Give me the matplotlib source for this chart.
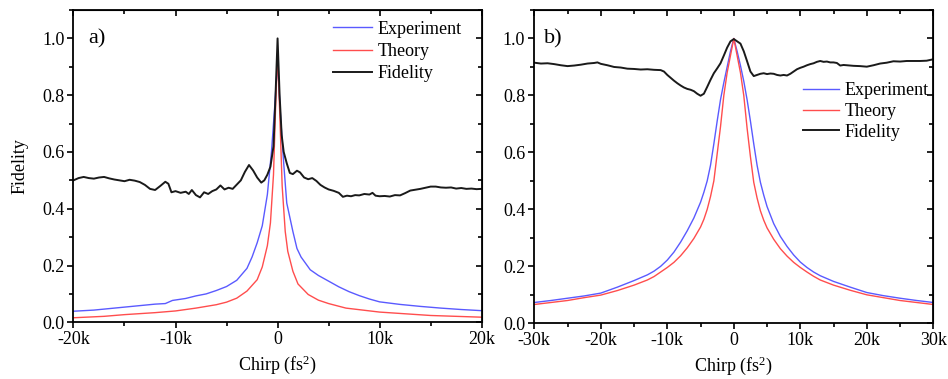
import numpy as np
import matplotlib
matplotlib.use("Agg")
import matplotlib.pyplot as plt
from matplotlib.ticker import MultipleLocator, FixedLocator, FixedFormatter, FormatStrFormatter

plt.rcParams['font.family'] = ['Liberation Serif', 'DejaVu Serif']
plt.rcParams['mathtext.fontset'] = 'custom'
plt.rcParams['mathtext.rm'] = 'Liberation Serif'
plt.rcParams['mathtext.it'] = 'Liberation Serif:italic'

# ---- panel a data (chirp in k fs^2) ----
a_fid_x = [-20, -19.5, -19, -18.5, -18, -17.5, -17, -16.5, -16, -15.5, -15, -14.5, -14, -13.5,
           -13, -12.5, -12, -11.5, -11, -10.7, -10.4, -10, -9.5, -9, -8.7, -8.4, -8, -7.6,
           -7.2, -6.8, -6.4, -6, -5.6, -5.2, -4.8, -4.4, -4, -3.6, -3.2, -2.8, -2.4, -2.0,
           -1.6, -1.3, -1.0, -0.7, -0.4, -0.2, 0, 0.2, 0.4, 0.6, 0.9, 1.2, 1.5, 1.9, 2.2,
           2.6, 3.0, 3.4, 3.8, 4.2, 4.6, 5.0, 5.5, 6.0, 6.4, 6.8, 7.2, 7.6, 8, 8.5, 9, 9.3,
           9.6, 10, 10.5, 11, 11.5, 12, 12.5, 13, 13.5, 14, 14.5, 15, 15.5, 16, 16.5, 17,
           17.5, 18, 18.5, 19, 19.5, 20]
a_fid_y = [0.500, 0.508, 0.512, 0.508, 0.506, 0.510, 0.512, 0.507, 0.503, 0.500, 0.497, 0.502,
           0.499, 0.494, 0.484, 0.470, 0.466, 0.480, 0.495, 0.488, 0.458, 0.462, 0.456, 0.460,
           0.452, 0.466, 0.448, 0.440, 0.458, 0.452, 0.462, 0.468, 0.482, 0.468, 0.474, 0.470,
           0.485, 0.500, 0.530, 0.554, 0.535, 0.510, 0.492, 0.500, 0.520, 0.548, 0.620, 0.800,
           1.000, 0.800, 0.660, 0.600, 0.560, 0.526, 0.522, 0.534, 0.528, 0.510, 0.504, 0.508,
           0.498, 0.484, 0.475, 0.468, 0.463, 0.456, 0.442, 0.446, 0.444, 0.448, 0.447, 0.452,
           0.450, 0.456, 0.446, 0.444, 0.445, 0.443, 0.448, 0.447, 0.455, 0.464, 0.467, 0.470,
           0.474, 0.478, 0.478, 0.475, 0.474, 0.475, 0.471, 0.473, 0.470, 0.471, 0.469, 0.470]

a_exp_x = [-20, -18, -16, -14, -12, -11, -10.3, -9, -8, -7, -6, -5, -4, -3, -2.5, -2, -1.5, -1,
           -0.6, -0.3, 0, 0.3, 0.6, 0.9, 1.2, 1.5, 1.9, 2.3, 2.7, 3.2, 4, 5, 6, 7, 8, 9, 10,
           12, 14, 16, 18, 20]
a_exp_y = [0.039, 0.043, 0.050, 0.057, 0.064, 0.066, 0.077, 0.084, 0.093, 0.100, 0.112, 0.126,
           0.148, 0.190, 0.230, 0.280, 0.340, 0.450, 0.600, 0.750, 0.920, 0.720, 0.560, 0.420,
           0.370, 0.320, 0.260, 0.230, 0.210, 0.185, 0.165, 0.145, 0.125, 0.108, 0.094, 0.082,
           0.072, 0.063, 0.056, 0.050, 0.045, 0.041]

a_th_x = [-20, -17, -15, -12, -10, -8, -6, -5, -4, -3, -2, -1.5, -1, -0.7, -0.4, -0.2, 0,
          0.2, 0.45, 0.75, 1.0, 1.5, 2.0, 3.0, 4, 5, 6.7, 10, 15, 20]
a_th_y = [0.016, 0.021, 0.027, 0.034, 0.040, 0.050, 0.062, 0.071, 0.085, 0.110, 0.150, 0.195,
          0.270, 0.350, 0.520, 0.750, 0.950, 0.750, 0.480, 0.320, 0.250, 0.180, 0.135, 0.098,
          0.078, 0.066, 0.050, 0.036, 0.024, 0.018]

# ---- panel b data ----
b_fid_x = [-30, -29, -28, -27, -26, -25, -24, -23, -22, -21, -20.5, -20, -19, -18, -17, -16,
           -15, -14, -13, -12, -11, -10.5, -10, -9.5, -9, -8.5, -8, -7.5, -7, -6.5, -6, -5.5,
           -5, -4.5, -4, -3.5, -3, -2.5, -2, -1.5, -1, -0.5, 0, 0.5, 1, 1.5, 2, 2.5, 3, 3.5,
           4, 4.5, 5, 5.5, 6, 6.5, 7, 7.5, 8, 8.5, 9, 9.5, 10, 10.5, 11, 11.5, 12, 12.5, 13,
           13.5, 14, 14.5, 15, 15.5, 16, 16.5, 17, 18, 19, 20, 21, 22, 23, 24, 25, 26, 27,
           28, 29, 30]
b_fid_y = [0.915, 0.912, 0.913, 0.910, 0.906, 0.903, 0.905, 0.908, 0.912, 0.914, 0.916, 0.911,
           0.906, 0.900, 0.898, 0.894, 0.893, 0.891, 0.892, 0.890, 0.889, 0.884, 0.872, 0.862,
           0.852, 0.843, 0.835, 0.828, 0.823, 0.820, 0.815, 0.806, 0.799, 0.806, 0.830, 0.855,
           0.878, 0.895, 0.913, 0.940, 0.968, 0.990, 0.998, 0.990, 0.982, 0.955, 0.920, 0.884,
           0.868, 0.872, 0.876, 0.878, 0.875, 0.877, 0.876, 0.872, 0.870, 0.872, 0.870, 0.876,
           0.884, 0.892, 0.897, 0.901, 0.906, 0.910, 0.913, 0.918, 0.921, 0.918, 0.919, 0.916,
           0.916, 0.914, 0.905, 0.907, 0.906, 0.904, 0.903, 0.901, 0.906, 0.912, 0.915, 0.920,
           0.919, 0.921, 0.921, 0.921, 0.922, 0.927]

b_exp_x = [-30, -27.5, -25, -22.5, -20, -17.5, -15, -13, -12, -11, -10, -9, -8, -7, -6, -5,
           -4.5, -4, -3.5, -3, -2.5, -2, -1.5, -1, -0.5, 0, 0.5, 1, 1.5, 2, 2.5, 3, 3.5, 4,
           4.5, 5, 6, 7, 8, 9, 10, 11, 12, 13, 15, 17.5, 20, 22.5, 25, 27.5, 30]
b_exp_y = [0.073, 0.080, 0.088, 0.096, 0.106, 0.127, 0.150, 0.170, 0.183, 0.200, 0.222, 0.250,
           0.285, 0.325, 0.370, 0.425, 0.460, 0.500, 0.555, 0.630, 0.710, 0.785, 0.845, 0.900,
           0.955, 1.000, 0.955, 0.905, 0.850, 0.785, 0.710, 0.630, 0.555, 0.495, 0.450, 0.410,
           0.350, 0.305, 0.270, 0.240, 0.215, 0.196, 0.180, 0.167, 0.147, 0.127, 0.108, 0.097,
           0.088, 0.080, 0.073]

b_th_x = [-30, -27.5, -25, -22.5, -20, -17.5, -15, -13, -12, -11, -10, -9, -8, -7, -6, -5,
          -4.5, -4, -3.5, -3, -2.5, -2, -1.5, -1, -0.5, 0, 0.5, 1, 1.5, 2, 2.5, 3, 3.5, 4,
          4.5, 5, 6, 7, 8, 9, 10, 11, 12, 13, 15, 17.5, 20, 22.5, 25, 27.5, 30]
b_th_y = [0.066, 0.073, 0.080, 0.090, 0.099, 0.115, 0.134, 0.152, 0.164, 0.180, 0.196, 0.214,
          0.237, 0.265, 0.298, 0.338, 0.365, 0.400, 0.445, 0.500, 0.595, 0.690, 0.800, 0.880,
          0.940, 1.000, 0.940, 0.880, 0.800, 0.685, 0.585, 0.495, 0.440, 0.395, 0.362, 0.335,
          0.295, 0.262, 0.236, 0.214, 0.196, 0.180, 0.165, 0.152, 0.134, 0.116, 0.100, 0.090,
          0.080, 0.073, 0.066]

a_xticks = [-20, -10, 0, 10, 20]
a_xlabels = ['-20k', '-10k', '0', '10k', '20k']
b_xticks = [-30, -20, -10, 0, 10, 20, 30]
b_xlabels = ['-30k', '-20k', '-10k', '0', '10k', '20k', '30k']

BLUE = '#5a5aff'
RED = '#ff4d4d'
BLACK = '#1a1a1a'
FS = 13

fig = plt.figure(figsize=(9.48, 3.79), dpi=100)
ax_a = fig.add_axes([0.0775, 0.1496, 0.4306, 0.824])
ax_b = fig.add_axes([0.5636, 0.147, 0.4209, 0.8266])


def style(ax, xticks, xlabels, xlim):
    ax.set_xlim(xlim)
    ax.set_ylim(0, 1.1)
    ax.xaxis.set_major_locator(FixedLocator(xticks))
    ax.xaxis.set_major_formatter(FixedFormatter(xlabels))
    ax.xaxis.set_minor_locator(MultipleLocator(5))
    ax.yaxis.set_major_locator(FixedLocator([0, 0.2, 0.4, 0.6, 0.8, 1.0]))
    ax.yaxis.set_major_formatter(FormatStrFormatter('%.1f'))
    ax.yaxis.set_minor_locator(MultipleLocator(0.1))
    for s in ax.spines.values():
        s.set_linewidth(1.3)
    ax.tick_params(which='both', direction='out', width=1.2, labelsize=FS, pad=2)
    ax.tick_params(which='major', length=4.5)
    ax.tick_params(which='minor', length=3)
    # mirrored ticks on top and right, pointing inwards
    top = ax.secondary_xaxis('top')
    top.xaxis.set_major_locator(FixedLocator(xticks))
    top.xaxis.set_minor_locator(MultipleLocator(5))
    top.tick_params(which='both', direction='in', width=1.2, labeltop=False)
    top.tick_params(which='major', length=4.5)
    top.tick_params(which='minor', length=3)
    right = ax.secondary_yaxis('right')
    right.yaxis.set_major_locator(FixedLocator([0, 0.2, 0.4, 0.6, 0.8, 1.0]))
    right.yaxis.set_minor_locator(MultipleLocator(0.1))
    right.tick_params(which='both', direction='in', width=1.2, labelright=False)
    right.tick_params(which='major', length=4.5)
    right.tick_params(which='minor', length=3)
    ax.set_xlabel('Chirp (fs$^2$)', fontsize=FS, labelpad=4)


# panel a
ax_a.plot(a_exp_x, a_exp_y, color=BLUE, lw=1.0, label='Experiment')
ax_a.plot(a_th_x, a_th_y, color=RED, lw=1.0, label='Theory')
ax_a.plot(a_fid_x, a_fid_y, color=BLACK, lw=1.4, label='Fidelity')
style(ax_a, a_xticks, a_xlabels, (-20, 20))
ax_a.set_ylabel('Fidelity', fontsize=FS, labelpad=10)
ax_a.text(0.036, 0.907, 'a)', transform=ax_a.transAxes, fontsize=16, va='center', ha='left')
ax_a.legend(loc='upper left', bbox_to_anchor=(0.635, 0.966), frameon=False, fontsize=FS,
            borderpad=0, borderaxespad=0, handlelength=2.2, handletextpad=0.3,
            labelspacing=0.3)

# panel b
ax_b.plot(b_exp_x, b_exp_y, color=BLUE, lw=1.0, label='Experiment')
ax_b.plot(b_th_x, b_th_y, color=RED, lw=1.0, label='Theory')
ax_b.plot(b_fid_x, b_fid_y, color=BLACK, lw=1.4, label='Fidelity')
style(ax_b, b_xticks, b_xlabels, (-30, 30))
ax_b.text(0.024, 0.907, 'b)', transform=ax_b.transAxes, fontsize=16, va='center', ha='left')
ax_b.legend(loc='upper left', bbox_to_anchor=(0.674, 0.769), frameon=False, fontsize=FS,
            borderpad=0, borderaxespad=0, handlelength=2.0, handletextpad=0.3,
            labelspacing=0.2)

fig.savefig('out.png', dpi=100)
